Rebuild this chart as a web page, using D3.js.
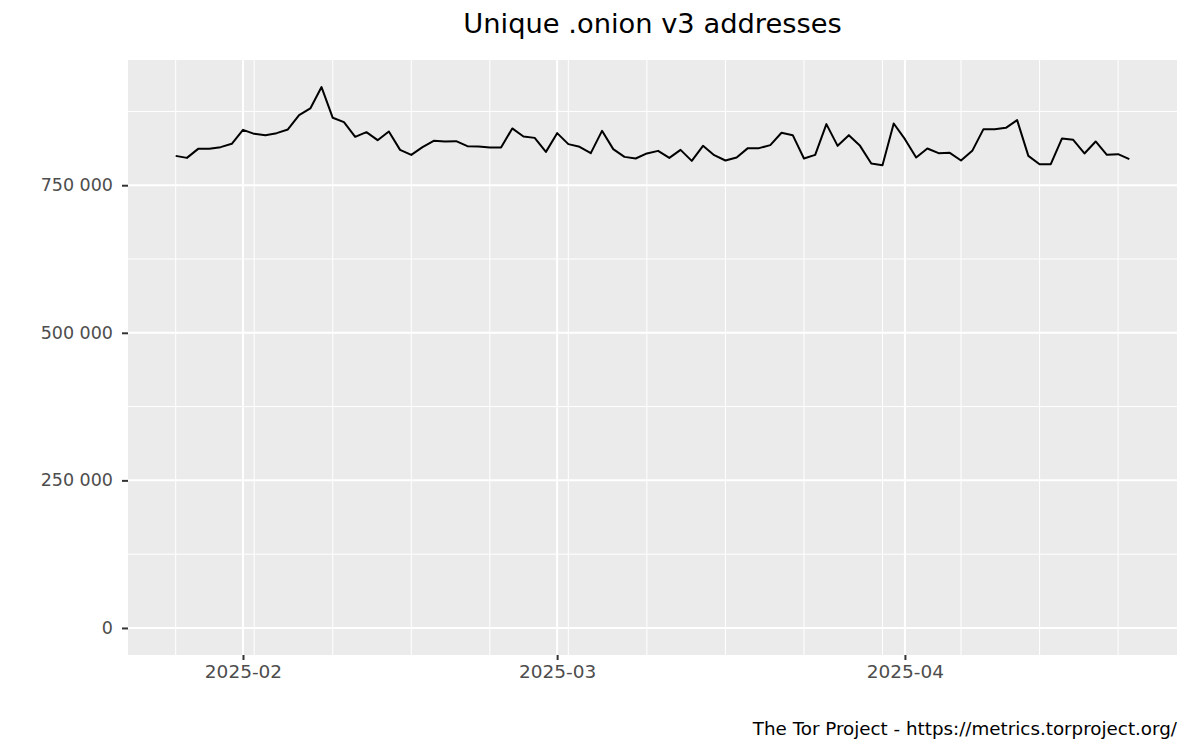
<!DOCTYPE html>
<html>
<head>
<meta charset="utf-8">
<script src="https://cdn.jsdelivr.net/npm/d3@7"></script>
<style>
  body { margin: 0; background: #fff; }
  svg { display: block; font-family: "DejaVu Sans", sans-serif; }
</style>
</head>
<body>
<svg id="chart" width="1200" height="750"></svg>
<script>
// ---- Data ----
const startDate = "2025-01-26";
const values = [
  799700, 796300, 811600, 811600, 814500, 820100,            // Jan 26-31
  843800, 837000, 834800, 838200, 844500, 868800, 880100,    // Feb 1-7
  916300, 864200, 856900, 832000, 839900, 826300, 841100,    // Feb 8-14
  809900, 801400, 814500, 825200, 824100, 824600, 816200,    // Feb 15-21
  815600, 813900, 813900, 846200, 832600, 830200, 806500,    // Feb 22-28
  838200, 819600, 815000, 804300, 842100, 811100, 798000,    // Mar 1-7
  795300, 803800, 808200, 796300, 809900, 791200, 816700,    // Mar 8-14
  800900, 791900, 797000, 812800, 812800, 817900, 838800,    // Mar 15-21
  834800, 795300, 801400, 853500, 816700, 834800, 816700,    // Mar 22-28
  786800, 783900, 854600,                                     // Mar 29-31
  828000, 797000, 812200, 804300, 804900, 791900, 808200,    // Apr 1-7
  845000, 845000, 847200, 860300, 799700, 785600, 785600,    // Apr 8-14
  829200, 826900, 803800, 824100, 801400, 802600, 794100     // Apr 15-21
];
const yTicks = [0, 250000, 500000, 750000];
const yMinor = [125000, 375000, 625000, 875000];
const xTickLabels = ["2025-02", "2025-03", "2025-04"];
const titleText = "Unique .onion v3 addresses";
const captionText = "The Tor Project - https://metrics.torproject.org/";

// ---- Build ----
const parse = d3.utcParse("%Y-%m-%d");
const parseMonth = d3.utcParse("%Y-%m");
const t0 = parse(startDate);
const data = values.map((v, i) => ({ date: d3.utcDay.offset(t0, i), value: v }));

const svg = d3.select("#chart");
const panel = { left: 128, right: 1177, top: 60, bottom: 655 };

const dExt = d3.extent(data, d => d.date);
const span = dExt[1] - dExt[0];
const x = d3.scaleUtc()
  .domain([new Date(+dExt[0] - span * 0.05), new Date(+dExt[1] + span * 0.05)])
  .range([panel.left, panel.right]);

const yMax = d3.max(values);
const yMin = 0;
const yr = yMax - yMin;
const y = d3.scaleLinear()
  .domain([yMin - yr * 0.05, yMax + yr * 0.05])
  .range([panel.bottom, panel.top]);

// panel background
svg.append("rect")
  .attr("x", panel.left).attr("y", panel.top)
  .attr("width", panel.right - panel.left).attr("height", panel.bottom - panel.top)
  .attr("fill", "#EBEBEB");

const grid = svg.append("g");
grid.selectAll(".hmin").data(yMinor).join("line")
  .attr("x1", panel.left).attr("x2", panel.right)
  .attr("y1", d => y(d)).attr("y2", d => y(d))
  .attr("stroke", "#fff").attr("stroke-width", 1);
const weekBreaks = d3.utcSunday.range(x.domain()[0], x.domain()[1]);
grid.selectAll(".vmin").data(weekBreaks).join("line")
  .attr("x1", d => x(d)).attr("x2", d => x(d))
  .attr("y1", panel.top).attr("y2", panel.bottom)
  .attr("stroke", "#fff").attr("stroke-width", 1);
grid.selectAll(".hmaj").data(yTicks).join("line")
  .attr("x1", panel.left).attr("x2", panel.right)
  .attr("y1", d => y(d)).attr("y2", d => y(d))
  .attr("stroke", "#fff").attr("stroke-width", 2);
const monthTicks = xTickLabels.map(s => parseMonth(s));
grid.selectAll(".vmaj").data(monthTicks).join("line")
  .attr("x1", d => x(d)).attr("x2", d => x(d))
  .attr("y1", panel.top).attr("y2", panel.bottom)
  .attr("stroke", "#fff").attr("stroke-width", 2);

// line
const line = d3.line().x(d => x(d.date)).y(d => y(d.value));
svg.append("path").datum(data)
  .attr("d", line)
  .attr("fill", "none")
  .attr("stroke", "#000")
  .attr("stroke-width", 2)
  .attr("stroke-linejoin", "round");

// axes
const fmt = v => d3.format(",")(v).replace(/,/g, " ");
const yAxis = d3.axisLeft(y).tickValues(yTicks).tickFormat(fmt).tickSize(6).tickPadding(9);
const gy = svg.append("g").attr("transform", `translate(${panel.left},0)`).call(yAxis);
gy.select(".domain").remove();
gy.selectAll(".tick line").attr("stroke", "#333").attr("stroke-width", 2);
gy.selectAll(".tick text").attr("fill", "#4D4D4D").attr("font-size", 17.5)
  .attr("font-family", "DejaVu Sans");

const xAxis = d3.axisBottom(x).tickValues(monthTicks).tickFormat(d3.utcFormat("%Y-%m")).tickSize(5).tickPadding(5);
const gx = svg.append("g").attr("transform", `translate(0,${panel.bottom})`).call(xAxis);
gx.select(".domain").remove();
gx.selectAll(".tick line").attr("stroke", "#333").attr("stroke-width", 2);
gx.selectAll(".tick text").attr("fill", "#4D4D4D").attr("font-size", 18.5)
  .attr("font-family", "DejaVu Sans");

// title
svg.append("text")
  .attr("x", (panel.left + panel.right) / 2).attr("y", 33)
  .attr("text-anchor", "middle")
  .attr("font-size", 27.3)
  .attr("fill", "#000")
  .text(titleText);

// caption
svg.append("text")
  .attr("x", panel.right).attr("y", 735)
  .attr("text-anchor", "end")
  .attr("font-size", 18.3)
  .attr("fill", "#000")
  .text(captionText);
</script>
</body>
</html>
